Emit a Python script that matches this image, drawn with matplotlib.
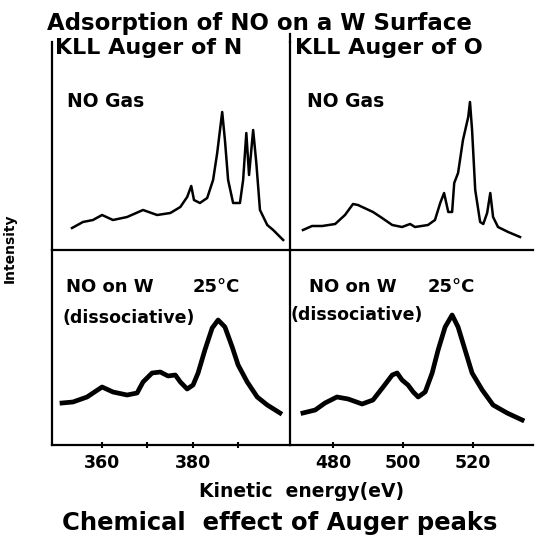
import numpy as np
import matplotlib
matplotlib.use('Agg')
import matplotlib.pyplot as plt
from matplotlib.lines import Line2D

# KLL Auger of N, NO gas (kinetic energy eV, intensity a.u.)
n_gas_ev = [353.5, 355.9, 358.1, 360.1, 362.5, 365.6, 369.1, 372.2, 375.1, 377.3,
            378.8, 379.7, 380.3, 381.6, 383.2, 384.5, 385.4, 386.5, 387.1, 387.8,
            388.9, 390.4, 391.1, 391.8, 392.4, 393.3, 394.0, 394.8, 396.4, 397.7, 399.9]
n_gas_int = [22, 28, 30, 35, 30, 33, 40, 35, 37, 43,
             53, 64, 50, 47, 52, 70, 97, 138, 110, 70,
             47, 47, 70, 117, 75, 120, 87, 40, 25, 20, 10]

# KLL Auger of O, NO gas
o_gas_ev = [471.4, 474.0, 476.9, 480.6, 483.4, 485.7, 487.1, 491.4, 494.0, 496.9,
            499.7, 502.0, 503.4, 507.1, 509.1, 510.6, 511.7, 512.9, 514.0, 514.6,
            515.7, 517.1, 518.6, 519.1, 519.7, 520.6, 522.0, 522.9, 524.0, 524.9,
            525.7, 527.1, 530.0, 533.4]
o_gas_int = [20, 24, 24, 26, 35, 46, 45, 38, 32, 25,
             23, 26, 23, 25, 30, 47, 57, 38, 38, 67,
             77, 110, 133, 148, 120, 60, 28, 26, 37, 57,
             33, 23, 18, 13]

# KLL Auger of N, NO on W at 25 C
n_w_ev = [351.3, 353.7, 356.8, 360.1, 362.5, 365.6, 367.8, 369.1, 371.1, 372.9,
          374.6, 376.2, 377.3, 378.8, 380.1, 381.2, 382.7, 384.3, 385.6, 387.1,
          388.7, 390.0, 392.0, 394.2, 396.4, 399.2]
n_w_int = [42, 43, 48, 58, 53, 50, 52, 63, 72, 73,
           69, 70, 63, 56, 60, 72, 95, 117, 125, 118,
           98, 80, 63, 48, 40, 32]

# KLL Auger of O, NO on W at 25 C
o_w_ev = [471.4, 474.9, 477.7, 481.1, 484.3, 488.3, 491.4, 494.3, 496.9, 498.3,
          499.7, 501.4, 502.9, 504.3, 506.3, 508.3, 510.0, 512.0, 514.0, 515.7,
          517.7, 519.7, 522.6, 525.7, 529.7, 534.0]
o_w_int = [32, 35, 42, 48, 46, 41, 45, 58, 70, 72,
           65, 60, 53, 48, 53, 72, 95, 118, 130, 118,
           95, 72, 55, 40, 32, 25]

n_ticks = [360, 370, 380, 390]
n_labels = ['360', '', '380', '']
o_ticks = [480, 500, 520]
o_labels = ['480', '500', '520']

W, H = 539, 550
fig = plt.figure(figsize=(W / 100, H / 100), dpi=100)

x0, xm, x1 = 52 / W, 290 / W, 533 / W
yt, ym, yb = 1 - 42 / H, 1 - 250 / H, 1 - 445 / H

ax_tl = fig.add_axes([x0, ym, xm - x0, yt - ym])
ax_tr = fig.add_axes([xm, ym, x1 - xm, yt - ym])
ax_bl = fig.add_axes([x0, yb, xm - x0, ym - yb])
ax_br = fig.add_axes([xm, yb, x1 - xm, ym - yb])

n_lim = (349.1, 401.4)
o_lim = (467.7, 537.1)

ax_tl.plot(n_gas_ev, n_gas_int, color='black', lw=1.8, solid_joinstyle='round')
ax_tr.plot(o_gas_ev, o_gas_int, color='black', lw=1.8, solid_joinstyle='round')
ax_bl.plot(n_w_ev, n_w_int, color='black', lw=3.4, solid_joinstyle='round')
ax_br.plot(o_w_ev, o_w_int, color='black', lw=3.4, solid_joinstyle='round')

for ax, lim in [(ax_tl, n_lim), (ax_bl, n_lim), (ax_tr, o_lim), (ax_br, o_lim)]:
    ax.set_xlim(*lim)
    ax.set_facecolor('none')
    ax.spines['top'].set_visible(False)
    ax.spines['right'].set_visible(False)
    for s in ('left', 'bottom'):
        ax.spines[s].set_linewidth(1.6)
    ax.set_yticks([])

ax_tl.set_ylim(0, 208)
ax_tr.set_ylim(0, 208)
ax_bl.set_ylim(0, 195)
ax_br.set_ylim(0, 195)

for ax in (ax_tl, ax_tr):
    ax.set_xticks([])

ax_bl.set_xticks(n_ticks)
ax_bl.set_xticklabels(n_labels)
ax_br.set_xticks(o_ticks)
ax_br.set_xticklabels(o_labels)
for ax in (ax_bl, ax_br):
    ax.tick_params(axis='x', direction='inout', length=5, width=1.5, pad=4,
                   labelsize=12.5)
    for lab in ax.get_xticklabels():
        lab.set_fontweight('bold')

# divider sticks up above the panels
fig.add_artist(Line2D([xm, xm], [yt, 1 - 34 / H], color='black', lw=1.6))

bold = dict(fontweight='bold', color='black')
fig.text(259 / W, 1 - 30 / H, 'Adsorption of NO on a W Surface', ha='center',
         va='baseline', fontsize=16.5, **bold)
fig.text(55 / W, 1 - 54 / H, 'KLL Auger of N', ha='left', va='baseline',
         fontsize=16, **bold)
fig.text(295 / W, 1 - 54 / H, 'KLL Auger of O', ha='left', va='baseline',
         fontsize=16, **bold)

fig.text(67 / W, 1 - 107 / H, 'NO Gas', ha='left', va='baseline', fontsize=13.5, **bold)
fig.text(307 / W, 1 - 107 / H, 'NO Gas', ha='left', va='baseline', fontsize=13.5, **bold)

fig.text(66 / W, 1 - 292 / H, 'NO on W', ha='left', va='baseline', fontsize=13, **bold)
fig.text(193 / W, 1 - 292 / H, '25°C', ha='left', va='baseline', fontsize=13, **bold)
fig.text(62 / W, 1 - 318 / H, '(dissociative)', ha='left', va='center',
         fontsize=12.5, **bold)
fig.text(309 / W, 1 - 292 / H, 'NO on W', ha='left', va='baseline', fontsize=13, **bold)
fig.text(428 / W, 1 - 292 / H, '25°C', ha='left', va='baseline', fontsize=13, **bold)
fig.text(291 / W, 1 - 315 / H, '(dissociative)', ha='left', va='center',
         fontsize=12.5, **bold)

fig.text(10 / W, 1 - 248 / H, 'Intensity', rotation=90, ha='center', va='center',
         fontsize=10, **bold)
fig.text(302 / W, 1 - 497 / H, 'Kinetic  energy(eV)', ha='center', va='baseline',
         fontsize=13.5, **bold)
fig.text(280 / W, 1 - 530 / H, 'Chemical  effect of Auger peaks', ha='center',
         va='baseline', fontsize=17.5, **bold)

fig.savefig('out.png', dpi=100, facecolor='white')
